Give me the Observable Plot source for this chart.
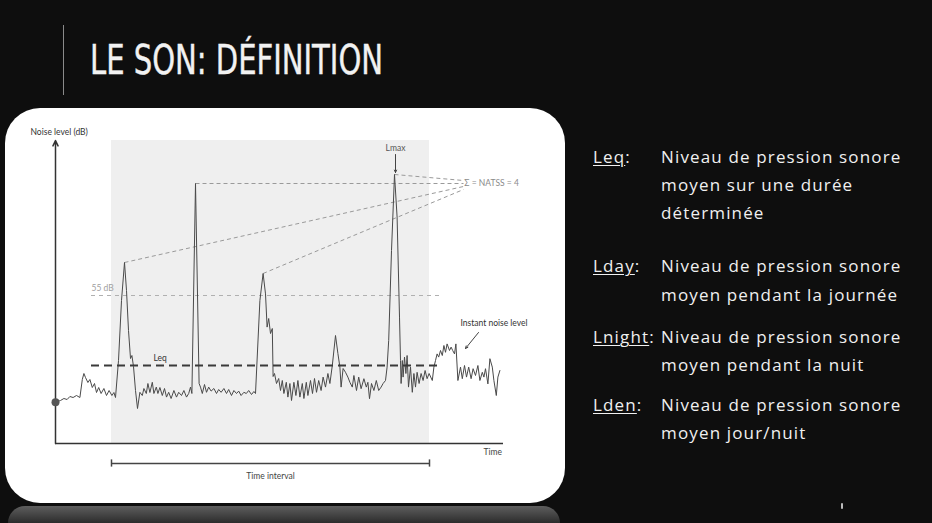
<!DOCTYPE html>
<html>
<head>
<meta charset="utf-8">
<script src="https://cdn.jsdelivr.net/npm/d3@7"></script>
<script src="https://cdn.jsdelivr.net/npm/@observablehq/plot@0.6"></script>
<style>
  html, body { margin: 0; padding: 0; }
  body { width: 932px; height: 523px; overflow: hidden; position: relative; background: #0e0e0e; }
  #vline { position: absolute; left: 63px; top: 25px; width: 1px; height: 70px; background: #8a8a8a; }
  #title { position: absolute; left: 90px; top: 40px; font-family: "Liberation Sans Narrow", "DejaVu Sans Condensed", "DejaVu Sans", sans-serif; font-stretch: condensed; font-size: 41px; line-height: 41px; color: #f2f2f2; white-space: nowrap; transform-origin: 0 0; -webkit-text-stroke: 0.4px #f2f2f2; }
  #card { position: absolute; left: 5px; top: 108px; width: 560px; height: 395px; background: #ffffff; border-radius: 35px; }
  #reflect { position: absolute; left: 8px; top: 506px; width: 552px; height: 17px; background: linear-gradient(#5e5e5e, #2c2c2c); border-radius: 22px 22px 0 0; }
  #chart { position: absolute; left: 5px; top: 108px; }
  .rt { position: absolute; font-family: "Open Sans", "Lato", sans-serif; font-size: 17px; line-height: 20px; color: #f0f0f0; letter-spacing: 1.15px; white-space: nowrap; }
  .lab u { text-decoration-thickness: 1px; text-underline-offset: 2px; }
  #pgmark { position: absolute; left: 841px; top: 503px; width: 2px; height: 6px; background: #bbb; border-radius: 1px; }
</style>
</head>
<body>
<div id="vline"></div>
<div id="title">LE SON: DÉFINITION</div>
<div id="card"></div>
<div id="reflect"></div>
<div id="chart"></div>
<div id="defs"></div>
<div id="pgmark"></div>
<script>
// ---- chart values (time units, noise level in dB) ----
const signal = [
[0,28.3],[1.25,28.75],[2.1,29.25],[2.9,29],[3.6,29.75],[4.4,29.5],[5.25,30],[6.1,29.5],[6.7,34],[7.1,35.5],[7.5,34.5],[8.1,33.25],[8.6,34],[9.2,32],[9.75,33],[10.25,30.75],[10.8,32],[11.4,30.5],[12.1,31.75],[12.75,30],[13.4,31.25],[14.1,30],[14.6,30.75],[15,29.5],
[15.75,38.75],[16.5,53.75],[17.25,63.25],[17.75,56.25],[18.25,46.25],[18.75,39.25],[19.1,40],[19.5,37.25],[20,31.25],[20.5,26.75],
[21.1,30.8],[21.7,30],[22.1,31.75],[22.7,30.5],[23.1,33],[23.6,30.75],[24.2,33.3],[24.6,30.5],[25.2,32.1],[25.6,30.5],[26.1,32],[26.7,30],[27.25,31.75],[27.75,29.6],[28.3,30.8],[28.9,29.25],[29.6,31.25],[30.25,29.6],[30.8,30.8],[31.5,30],[32.1,31.25],[32.75,29.6],[33.3,30.5],[33.75,32.1],
[34.1,30.5],[35,83],[35.9,33],
[36.25,32.1],[36.7,30.5],[37.25,32.75],[37.75,30.8],[38.3,32.1],[38.9,31.1],[39.6,31.75],[40.25,30.5],[40.8,31.5],[41.4,30.8],[42.1,31.75],[42.75,30.5],[43.3,31.5],[44,30],[44.6,31.25],[45.25,30.5],[45.8,31.1],[46.4,30],[47.1,30.8],[47.7,30.5],[48.3,31.25],[49,30.25],[49.6,31],[50,30.5],
[51.1,53.75],[51.9,60.5],[52.5,55.4],[52.9,47.1],[53.3,49.25],[53.75,45.5],[54.2,46.75],[54.4,34.75],[54.75,35.5],[55.25,33],[55.8,34.25],[56.25,31.25],[56.7,33.75],[57.1,30.5],[57.7,33.3],[58.1,29.6],[58.6,33],[59,28.75],[59.6,33.3],[60.1,30],[60.6,33.75],[61.1,29.6],[61.7,33],[62.1,29.25],[62.7,33.3],[63.1,30],[63.75,33.75],[64.25,30.5],[64.75,34.25],[65.25,30.8],[65.8,33.75],[66.4,31.25],[66.9,34.6],[67.5,32.1],[68.1,35.5],[68.6,33],[69.2,37.5],[70,45],[70.6,40.5],[71.1,37.1],[71.4,32.1],[71.9,36.75],[72.5,35.8],[73.1,34.6],[73.6,33.3],[74.2,32.1],[74.6,35],[75.25,31.25],[75.8,34.6],[76.4,31.7],[77.1,34.2],[77.7,32.1],[78.1,33.3],[78.5,29.2],[79,33],[79.6,31.25],[80.2,33.75],[80.8,31.25],[81.4,32.1],[81.9,33],[82.5,33.75],
[82.9,37.1],[83.3,43.75],[84,66.25],[84.75,85.25],[85.4,74.6],[86,49.6],[86.25,38.75],[86.4,33],[86.7,38.75],[86.9,34.6],[87.25,39.6],[87.6,35.5],[87.9,40],[88.25,32.1],[88.75,37.1],[89.2,30.8],[89.6,35.5],[90,32.1],[90.4,35.8],[90.9,33],[91.4,35.5],[91.9,33.75],[92.4,36.25],[92.9,34.2],[93.4,35.5],
[94.2,33.75],[94.6,37.1],[95,38.75],[95.4,40.4],[95.8,39.6],[96.25,41.25],[96.7,40],[97.1,42.5],[97.5,40.8],[97.9,42.9],[98.5,41.25],[98.9,42.1],[99.3,41.25],[99.75,40.4],[100.1,42.9],[100.6,33.75],[101.25,37.1],[101.7,34.2],[102.25,37.5],[102.75,34.6],[103.3,37.1],[103.9,34.2],[104.4,36.7],[105,35],[105.6,37.5],[106.1,33.75],[106.7,35.8],[107.1,34.6],[107.5,36.7],[108.1,32.9],[108.6,39.2],[109.2,37.1],[109.6,33.75],[110.2,30],[110.6,34.6],[111.1,36.25]
];
const timeInterval = [14, 93.5];        // shaded measurement window
const axisRange = { t: [0, 112], level: [18, 94] };
const thresholdLevel = 55;               // 55 dB threshold
const leqLevel = 37.5;                   // Leq
const lineSpan = [9, 96.75];             // extent of the 55 dB and Leq lines
// peaks above threshold and where their dashed links end (NATSS counter)
const natssFrom = [[17.25, 63.25], [35, 83], [51.9, 60.5], [84.75, 85.25]];
const natssTo   = [[102, 82.25], [102, 83], [102, 81.5], [102, 83.75]];
const startPoint = [[0, 28.3]];
const startLabels = [
  { t: -6.25, level: 95.75, text: "Noise level (dB)", fill: "#333" },
  { t: 9,     level: 56.75, text: "55 dB", fill: "#a0a0a0" },
  { t: 24.5,  level: 39.25, text: "Leq", fill: "#333" },
  { t: 102.2, level: 83,    text: "Σ = NATSS = 4", fill: "#8a8a8a" },
  { t: 101.25,level: 48,    text: "Instant noise level", fill: "#333" },
  { t: 107,   level: 15.75, text: "Time", fill: "#444" }
];
const middleLabels = [
  { t: 85,    level: 91.75, text: "Lmax", fill: "#555" },
  { t: 53.75, level: 9.75,  text: "Time interval", fill: "#444" }
];
const pointers = [
  { t1: 85, l1: 90.25, t2: 85, l2: 85.75 },          // Lmax arrow
  { t1: 105.75, l1: 45.75, t2: 102.5, l2: 41.75 }   // instant noise level arrow
];
const bracketLevel = 13;

// ---- right-hand definitions ----
const defTerms = ["Leq", "Lday", "Lnight", "Lden"];
const defLines = [
  ["Niveau de pression sonore", "moyen sur une durée", "déterminée"],
  ["Niveau de pression sonore", "moyen pendant la journée"],
  ["Niveau de pression sonore", "moyen pendant la nuit"],
  ["Niveau de pression sonore", "moyen jour/nuit"]
];

// ---- chart ----
const labelFont = "Lato, 'Open Sans', sans-serif";
const chart = Plot.plot({
  width: 560, height: 395,
  marginLeft: 50, marginRight: 62, marginTop: 31, marginBottom: 60,
  x: { domain: axisRange.t, axis: null },
  y: { domain: axisRange.level, axis: null },
  style: { background: "transparent", overflow: "visible" },
  marks: [
    Plot.rect([timeInterval], { x1: d => d[0], x2: d => d[1], y1: axisRange.level[0], y2: 93.75, fill: "#efefef" }),
    Plot.ruleY([thresholdLevel], { x1: lineSpan[0], x2: lineSpan[1], stroke: "#b0b0b0", strokeWidth: 1.2, strokeDasharray: "4,4" }),
    Plot.link(natssFrom.map((p, i) => ({ a: p, b: natssTo[i] })), {
      x1: d => d.a[0], y1: d => d.a[1], x2: d => d.b[0], y2: d => d.b[1],
      stroke: "#9a9a9a", strokeWidth: 1, strokeDasharray: "4,3"
    }),
    Plot.line(signal, { x: d => d[0], y: d => d[1], stroke: "#4a4a4a", strokeWidth: 1 }),
    Plot.ruleY([leqLevel], { x1: lineSpan[0], x2: lineSpan[1], stroke: "#3a3a3a", strokeWidth: 2, strokeDasharray: "8,5" }),
    Plot.ruleY([axisRange.level[0]], { x1: axisRange.t[0], x2: axisRange.t[1], stroke: "#333", strokeWidth: 1.5 }),
    Plot.arrow([0], { x1: 0, x2: 0, y1: axisRange.level[0], y2: 93.75, stroke: "#333", strokeWidth: 1.5, headLength: 6, headAngle: 50 }),
    Plot.dot(startPoint, { x: d => d[0], y: d => d[1], r: 4, fill: "#555", stroke: "none" }),
    Plot.arrow(pointers, { x1: "t1", y1: "l1", x2: "t2", y2: "l2", stroke: "#444", strokeWidth: 1, headLength: 4, headAngle: 50 }),
    Plot.ruleY([bracketLevel], { x1: timeInterval[0], x2: timeInterval[1], stroke: "#444", strokeWidth: 1.5 }),
    Plot.ruleX(timeInterval, { y1: bracketLevel - 0.9, y2: bracketLevel + 0.9, stroke: "#444", strokeWidth: 1.5 }),
    Plot.text(startLabels, { x: "t", y: "level", text: "text", fill: "fill", textAnchor: "start", fontSize: 8.5, fontFamily: labelFont }),
    Plot.text(middleLabels, { x: "t", y: "level", text: "text", fill: "fill", textAnchor: "middle", fontSize: 8.5, fontFamily: labelFont })
  ]
});
document.getElementById("chart").appendChild(chart);

// ---- definitions text ----
const defs = document.getElementById("defs");
const rowBaselines = [[164, 192, 220], [273, 302], [344, 372], [412, 440]];
function addLine(text, x, baseline, html) {
  const d = document.createElement("div");
  d.className = "rt" + (html ? " lab" : "");
  d.style.left = x + "px";
  d.style.top = (baseline - 16.6) + "px";
  if (html) d.innerHTML = html; else d.textContent = text;
  defs.appendChild(d);
}
defTerms.forEach((term, i) => {
  addLine(null, 593, rowBaselines[i][0], "<u>" + term + "</u>:");
  defLines[i].forEach((ln, j) => addLine(ln, 661, rowBaselines[i][j]));
});

// fit the condensed title to its width
const title = document.getElementById("title");
const w = title.getBoundingClientRect().width;
title.style.transform = "scaleX(" + (293 / w) + ")";
</script>
</body>
</html>
